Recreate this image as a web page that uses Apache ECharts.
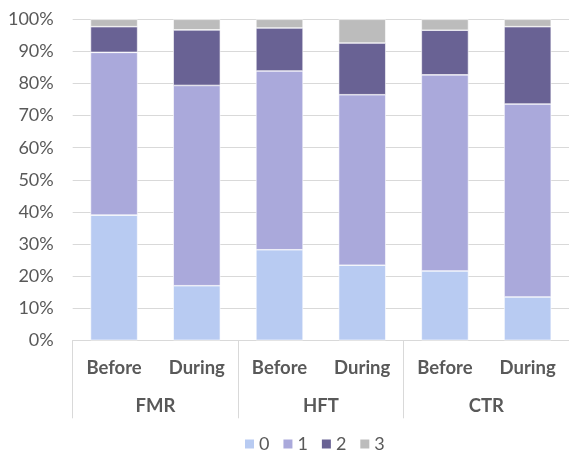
<!DOCTYPE html>
<html>
<head>
<meta charset="utf-8">
<script src="https://cdn.jsdelivr.net/npm/echarts@6/dist/echarts.min.js"></script>
<style>
  html, body { margin: 0; padding: 0; background: #fff; }
  #chart { width: 569px; height: 454px; }
</style>
</head>
<body>
<div id="chart"></div>
<script>
// Phases shown within each group, and the groups themselves
const phases = ['Before', 'During', 'Before', 'During', 'Before', 'During'];
const groups = ['FMR', 'HFT', 'CTR'];

// Share (%) of each score level per phase
const level0 = [39.0, 17.0, 28.2, 23.4, 21.6, 13.5];
const level1 = [50.7, 62.4, 55.7, 53.1, 61.1, 60.1];
const level2 = [8.0, 17.3, 13.4, 16.1, 13.9, 24.1];
const level3 = [2.3, 3.3, 2.7, 7.4, 3.4, 2.3];

const seriesNames = ['0', '1', '2', '3'];
const seriesColors = ['#B8CBF2', '#AAA9DB', '#696294', '#BCBCBC'];
const seriesData = [level0, level1, level2, level3];

const FONT = 'Lato, "Open Sans", sans-serif';
const TEXT = '#595959';
const LINE = '#D9D9D9';

const chart = echarts.init(document.getElementById('chart'), null, { renderer: 'canvas' });

chart.setOption({
  animation: false,
  backgroundColor: '#fff',
  grid: { left: 72.7, right: -3.7, top: 19.3, bottom: 113.7, containLabel: false },
  legend: {
    left: 238,
    top: 430,
    itemWidth: 11,
    itemHeight: 11,
    itemGap: 12,
    icon: 'rect',
    textStyle: { color: TEXT, fontFamily: FONT, fontSize: 18, padding: [0, 0, 0, -1] },
    data: seriesNames
  },
  xAxis: [
    {
      type: 'category',
      data: phases,
      position: 'bottom',
      axisLine: { show: true, lineStyle: { color: LINE, width: 1 } },
      axisTick: { show: false },
      axisLabel: { color: TEXT, fontFamily: FONT, fontSize: 18.5, fontWeight: 'bold', margin: 18, interval: 0 }
    },
    {
      type: 'category',
      data: groups,
      position: 'bottom',
      gridIndex: 0,
      boundaryGap: true,
      axisLine: { show: false },
      axisTick: { show: true, length: 78, lineStyle: { color: LINE, width: 1 }, interval: 0 },
      axisLabel: { color: TEXT, fontFamily: FONT, fontSize: 18.5, fontWeight: 'bold', margin: 56, interval: 0 },
      splitLine: { show: false }
    }
  ],
  yAxis: {
    type: 'value',
    min: 0,
    max: 100,
    interval: 10,
    axisLine: { show: false },
    axisTick: { show: false },
    axisLabel: { color: TEXT, fontFamily: FONT, fontSize: 18, margin: 19, formatter: '{value}%' },
    splitLine: { lineStyle: { color: LINE, width: 1 } }
  },
  series: seriesData.map((vals, i) => ({
    name: seriesNames[i],
    type: 'bar',
    stack: 'total',
    xAxisIndex: 0,
    barCategoryGap: '43%',
    data: vals,
    itemStyle: { color: seriesColors[i], borderColor: '#ffffff', borderWidth: 0.6 }
  }))
});
</script>
</body>
</html>
